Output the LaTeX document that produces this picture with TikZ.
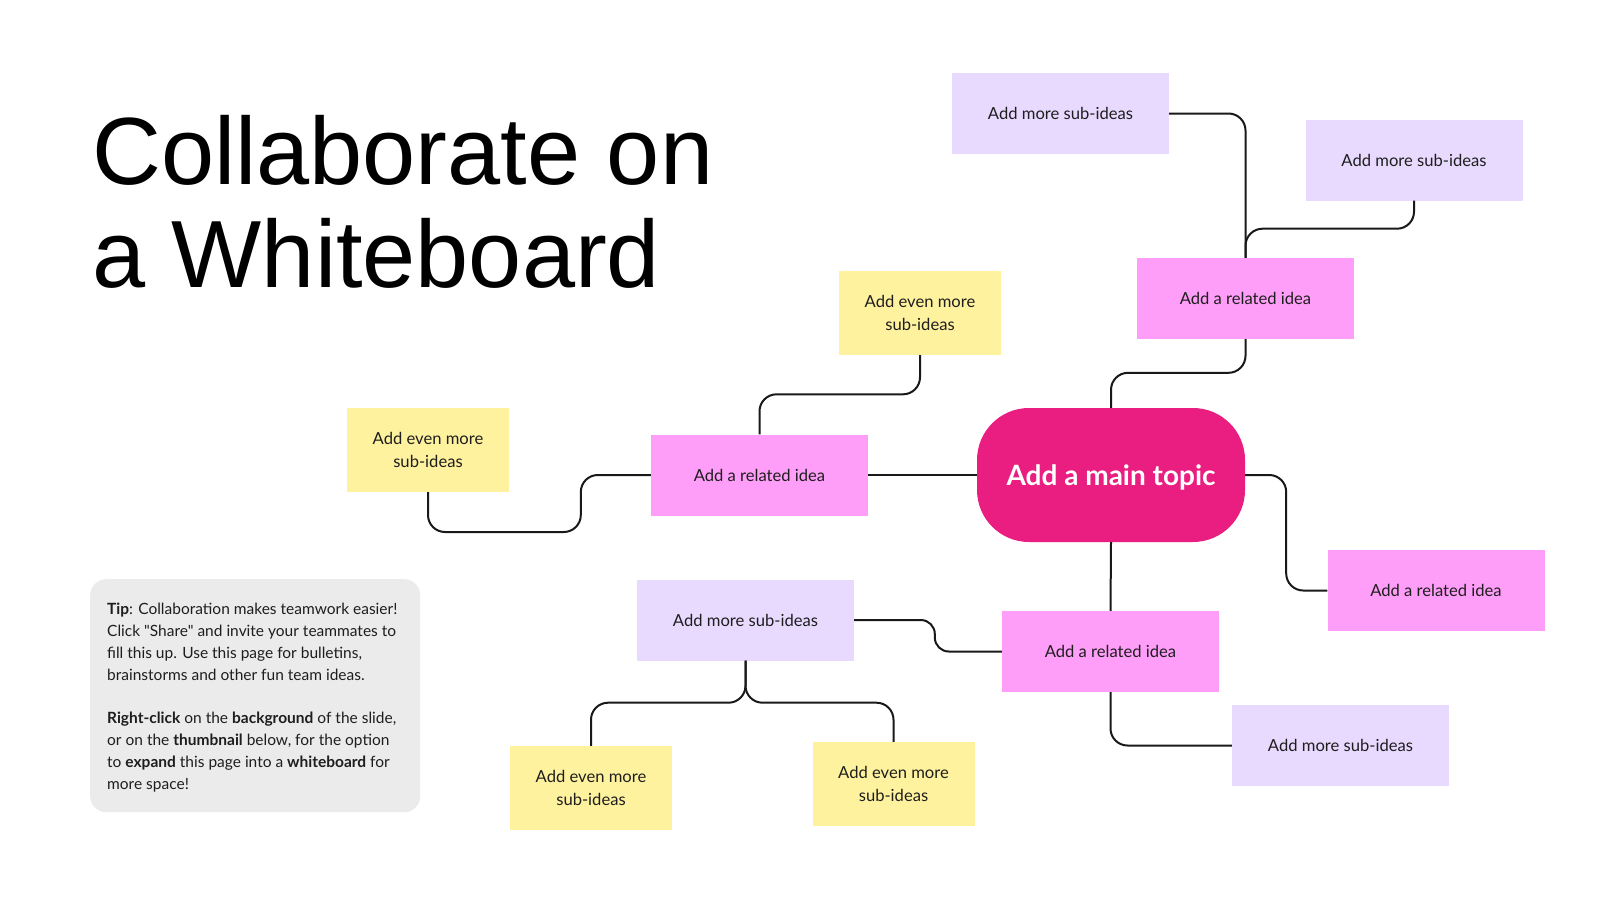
\documentclass[tikz,border=0pt]{standalone}
\usepackage{fontspec}
\setmainfont{Lato}[Ligatures=TeXOff]
\newfontfamily\titlefont{Liberation Sans}
\usetikzlibrary{calc}
\definecolor{pinkbox}{HTML}{FF9EF8}
\definecolor{lavbox}{HTML}{E8DAFE}
\definecolor{yelbox}{HTML}{FFF29E}
\definecolor{maincol}{HTML}{EA1D80}
\definecolor{tipgray}{HTML}{EBEBEB}
\definecolor{txt}{HTML}{1E1E1E}
\tikzset{
  card/.style={rectangle, inner sep=0pt, minimum width=217pt, minimum height=81pt,
    text=txt, font=\fontsize{16.6}{23.5}\selectfont, align=center},
  related/.style={card, fill=pinkbox},
  subidea/.style={card, fill=lavbox},
  evenmore/.style={card, fill=yelbox, minimum width=162pt, minimum height=84pt},
  maintopic/.style={rectangle, rounded corners=52pt, fill=maincol, inner sep=0pt,
    minimum width=268pt, minimum height=134pt, text=white, text height=24pt, text depth=4pt,
    font=\fontsize{28}{32}\selectfont\bfseries},
  link/.style={draw=black!90, line width=2pt, rounded corners=17pt},
  titletext/.style={inner sep=0pt, anchor=base west, font=\titlefont\fontsize{95.5}{100}\selectfont}
}
\begin{document}
\begin{tikzpicture}[x=1pt,y=-1pt]
\useasboundingbox (0,0) rectangle (1600,900);
\fill[white] (0,0) rectangle (1600,900);

% title
\node[titletext] (t1) at (92,184) {Collaborate on};
\node[titletext] (t2) at (92,287) {a Whiteboard};

% tip box
\node[rectangle, rounded corners=16pt, fill=tipgray, minimum width=330pt, minimum height=233pt, inner sep=0pt, anchor=north west] (tipbox) at (90,579) {};
\node[anchor=north west, inner sep=0pt, align=left, text=txt, font=\fontsize{15.5}{21.8}\selectfont] (tiptext) at (107,603)
{\textbf{Tip}: Collaboration makes teamwork easier!\\
Click "Share" and invite your teammates to\\
fill this up. Use this page for bulletins,\\
brainstorms and other fun team ideas.\\[21.8pt]
\textbf{Right-click} on the \textbf{background} of the slide,\\
or on the \textbf{thumbnail} below, for the option\\
to \textbf{expand} this page into a \textbf{whiteboard} for\\
more space!};

% nodes
\node[maintopic] (main) at (1111,475) {Add a main topic};
\node[related] (r1) at (1245.5,298.5) {Add a related idea};
\node[related] (r2) at (759.5,475) {Add a related idea};
\node[related] (r3) at (1436,590.5) {Add a related idea};
\node[related] (r4) at (1110.5,651.5) {Add a related idea};
\node[subidea] (a1) at (1060.5,113.5) {Add more sub-ideas};
\node[subidea] (a2) at (1414,160) {Add more sub-ideas};
\node[subidea] (a3) at (1340.5,745.5) {Add more sub-ideas};
\node[subidea] (a4) at (745.5,620) {Add more sub-ideas};
\node[evenmore] (y1) at (920,313) {Add even more\\sub-ideas};
\node[evenmore] (y2) at (428,450) {Add even more\\sub-ideas};
\node[evenmore] (y3) at (591,788) {Add even more\\sub-ideas};
\node[evenmore] (y4) at (893.5,784) {Add even more\\sub-ideas};

% connectors
\draw[link] (main.west) -- (r2.east);
\draw[link] (main.north) -- ++(0,-35) -| (r1.south);
\draw[link] (main.east) -- ++(41,0) |- (r3.west);
\draw[link] (main.south) -- (r4.north);
\draw[link] (r4.south) |- (a3.west);
\draw[link, rounded corners=14pt] (r4.west) -- ++(-67,0) |- (a4.east);
\draw[link] (a4.south) -- ++(0,42) -| (y3.north);
\draw[link] (a4.south) -- ++(0,42) -| (y4.north);
\draw[link] (r2.north) -- ++(0,-40) -| (y1.south);
\draw[link] (r2.west) -- ++(-70,0) -- ++(0,57) -| (y2.south);
\draw[link] (r1.north) |- (a1.east);
\draw[link] (a2.south) -- ++(0,28) -| (r1.north);
\end{tikzpicture}
\end{document}
